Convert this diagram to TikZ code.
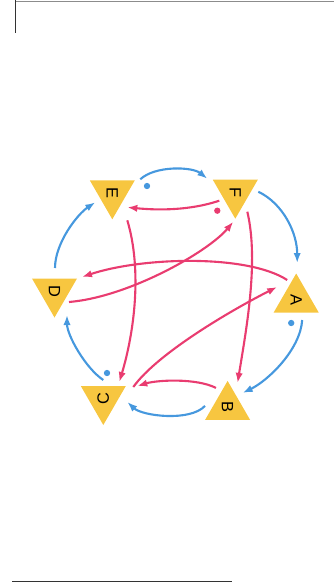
\documentclass[tikz,border=0pt]{standalone}
\usepackage{fontspec}
\setmainfont{Liberation Sans}
\usepackage{graphicx}
\usepackage{xcolor}
\usepackage{tikz}
\usetikzlibrary{arrows.meta,shapes.geometric,calc}

\definecolor{triyellow}{RGB}{247,198,64}
\definecolor{flowblue}{RGB}{70,152,222}
\definecolor{flowpink}{RGB}{233,60,112}

\begin{document}
\begin{tikzpicture}[
    x=0.03cm, y=-0.03cm,
    font=\fontsize{14}{16}\selectfont,
    tri/.style={regular polygon, regular polygon sides=3, fill=triyellow,
      minimum size=1.56cm, inner sep=0pt},
    tridown/.style={tri, shape border rotate=180},
    triup/.style={tri},
    blueline/.style={draw=flowblue, line width=1.8pt, -{Latex[length=3mm,width=2.2mm]}},
    pinkline/.style={draw=flowpink, line width=1.8pt, -{Latex[length=3mm,width=2.2mm]}},
    bluedot/.style={circle, fill=flowblue, minimum size=1.9mm, inner sep=0pt},
    pinkdot/.style={circle, fill=flowpink, minimum size=1.9mm, inner sep=0pt}
  ]
    \useasboundingbox (0,0) rectangle (334,586);
    % page edges of the scan
    \draw[black!45, line width=0.7pt] (15,1.2) -- (334,1.2);
    \draw[black!80, line width=0.8pt] (15,0) -- (15,33);
    \draw[black!80, line width=0.8pt] (12,581) -- (232,581);

    \node[tridown] (E) at (112.3,193.3) {\rotatebox{-90}{E}};
    \node[tridown] (F) at (235.3,192.7) {\rotatebox{-90}{F}};
    \node[triup] (A) at (296.2,299.5) {\rotatebox{-90}{A}};
    \node[triup] (B) at (227.6,406.9) {\rotatebox{-90}{B}};
    \node[tridown] (C) at (103.3,399) {\rotatebox{90}{C}};
    \node[tridown] (D) at (54.5,291.5) {\rotatebox{-90}{D}};

    \node[bluedot] (dotE) at ($(E)+(34.7,-7.3)$) {};
    \node[bluedot] (dotA) at ($(A)+(-5,23.5)$) {};
    \node[bluedot] (dotC) at ($(C)+(3.7,-26)$) {};
    \node[pinkdot] (dotF) at ($(F)+(-18,18)$) {};

    % outer ring
    \draw[blueline] ($(E)+(28,-14)$) .. controls +(15,-14) and +(-15,-12) .. ($(F)+(-28,-14)$);
    \draw[blueline] ($(F)+(23,-1)$) .. controls +(25,12) and +(0,-30) .. ($(A)+(1,-36.5)$);
    \draw[blueline] ($(A)+(6,20.5)$) .. controls +(-2,30) and +(25,-12) .. ($(B)+(15,-14)$);
    \draw[blueline] ($(B)+(-22.6,-1)$) .. controls +(-15,16) and +(15,14) .. ($(C)+(24,3)$);
    \draw[blueline] ($(C)+(0,-19)$) .. controls +(-18,-12) and +(0,20) .. ($(D)+(12.5,23.5)$);
    \draw[blueline] ($(D)+(0.5,-23.5)$) .. controls +(0,-25) and +(-18,12) .. ($(E)+(-17,9)$);

    % inner links
    \draw[pinkline] ($(F)+(-16,8)$) .. controls +(-30,10) and +(30,3) .. ($(E)+(15,14)$);
    \draw[pinkline] ($(A)+(-9,-19.5)$) .. controls +(-40,-26) and +(60,-20) .. ($(D)+(27.5,-14.5)$);
    \draw[pinkline] ($(D)+(14.5,10.5)$) .. controls +(60,-5) and +(-25,30) .. ($(F)+(-2,29)$);
    \draw[pinkline] ($(E)+(15,27)$) .. controls +(15,50) and +(15,-50) .. ($(C)+(16,-17)$);
    \draw[pinkline] ($(F)+(12,19)$) .. controls +(12,50) and +(8,-50) .. ($(B)+(10,-24)$);
    \draw[pinkline] ($(C)+(30,-12)$) .. controls +(25,-35) and +(-40,20) .. ($(A)+(-19,-12.5)$);
    \draw[pinkline] ($(B)+(-11.6,-19)$) .. controls +(-20,-10) and +(20,-6) .. ($(C)+(34,-13)$);
  \end{tikzpicture}
\end{document}
